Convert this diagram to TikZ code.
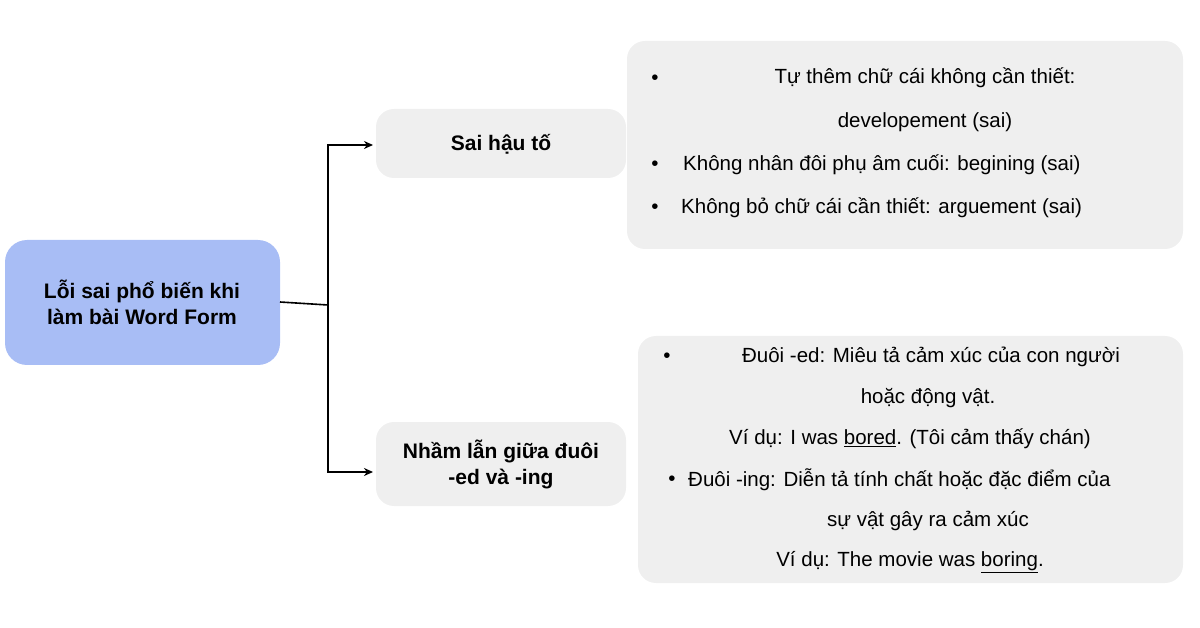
\documentclass[tikz,border=0pt]{standalone}
\usepackage{fontspec}
\setmainfont{Liberation Sans}
\usetikzlibrary{arrows.meta}
\definecolor{rootc}{HTML}{A8BDF5}
\definecolor{boxc}{HTML}{EFEFEF}
\begin{document}
\begin{tikzpicture}[x=1pt,y=-1pt,
  box/.style={fill=boxc,rounded corners=18pt},
  lab/.style={font=\fontsize{21}{26}\selectfont\bfseries,align=center},
  txt/.style={font=\fontsize{20.5}{24}\selectfont,inner sep=0pt},
  conn/.style={line width=1.6pt,-{Stealth[length=9pt,width=8pt]}}]
\useasboundingbox (0,0) rectangle (1200,628);
\fill[rootc,rounded corners=22pt] (5,240) rectangle (280,365);
\node[lab] (root) at (142,302) {Lỗi sai phổ biến khi\\làm bài Word Form};
\fill[box] (376,109) rectangle (626,178);
\node[lab] (a) at (501,144) {Sai hậu tố};
\fill[box] (376,422) rectangle (626,506);
\node[lab] (b) at (501,464) {Nhầm lẫn giữa đuôi\\-ed và -ing};
\fill[box] (627,41) rectangle (1183,249);
\fill[box] (638,336) rectangle (1183,583);
\coordinate (j) at (328,305);
\draw[line width=1.6pt] (280,302) -- (j);
\draw[conn] (328,305) |- (373,145);
\draw[conn] (328,305) |- (373,472);
% box 1
\node[txt] (b1) at (655,80) {•};
\node[txt] (t1) at (925,78) {Tự thêm chữ cái không cần thiết:};
\node[txt] (t2) at (925,122) {developement (sai)};
\node[txt] (b2) at (655,166) {•};
\node[txt,anchor=west] (t3) at (683,165) {Không nhân đôi phụ âm cuối: begining (sai)};
\node[txt] (b3) at (655,209) {•};
\node[txt,anchor=west] (t4) at (681,208) {Không bỏ chữ cái cần thiết: arguement (sai)};
% box 2
\node[txt] (c1) at (667,358) {•};
\node[txt] (u1) at (931,357) {Đuôi -ed: Miêu tả cảm xúc của con người};
\node[txt] (u2) at (928,398) {hoặc động vật.};
\node[txt] (u3) at (910,439) {Ví dụ: I was \underline{bored}. (Tôi cảm thấy chán)};
\node[txt] (c2) at (672,481) {•};
\node[txt,anchor=west] (u4) at (688,480) {Đuôi -ing: Diễn tả tính chất hoặc đặc điểm của};
\node[txt] (u5) at (928,521) {sự vật gây ra cảm xúc};
\node[txt] (u6) at (910,562) {Ví dụ: The movie was \underline{boring}.};
\end{tikzpicture}
\end{document}
